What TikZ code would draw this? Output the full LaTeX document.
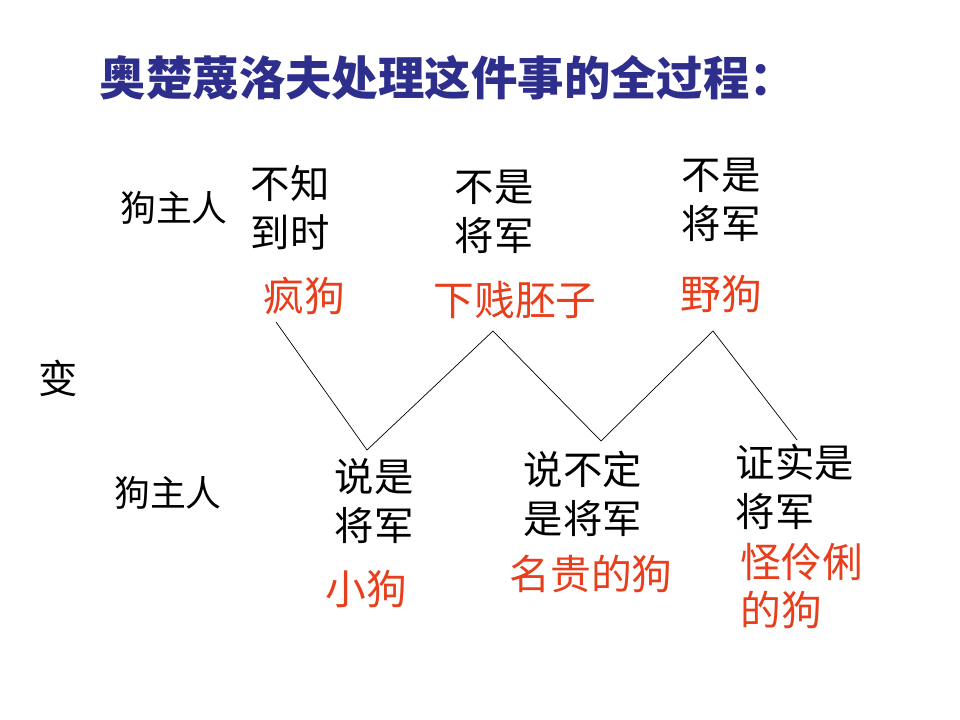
\documentclass[tikz,border=0pt]{standalone}
\usepackage{fontspec}
\newfontfamily\cjk{Noto Sans CJK SC}
\definecolor{titleblue}{RGB}{46,46,140}
\definecolor{redtxt}{RGB}{232,62,28}
\begin{document}
\begin{tikzpicture}[x=0.025cm,y=-0.025cm,
  blk/.style={inner sep=0pt,align=left,font=\cjk\fontsize{28}{35}\selectfont,text=black},
  owner/.style={inner sep=0pt,font=\cjk\fontsize{25.5}{30}\selectfont,text=black},
  rd/.style={inner sep=0pt,align=left,font=\cjk\fontsize{29}{34}\selectfont,text=redtxt},
  zig/.style={draw=black,line width=0.5pt}]
\path[use as bounding box,fill=white] (0,0) rectangle (960,720);
\node[inner sep=0pt,font=\cjk\bfseries\fontsize{33}{36}\selectfont,text=titleblue] (title) at (448,78) {奥楚蔑洛夫处理这件事的全过程：};
\node[owner] (own1) at (174,208) {狗主人};
\node[owner] (own2) at (168,493) {狗主人};
\node[blk] (bian) at (58,378) {变};
\node[blk] (t1) at (290,208) {不知\\到时};
\node[rd] (r1) at (304,296) {疯狗};
\node[blk] (t2) at (494,212) {不是\\将军};
\node[rd] (r2) at (515,300) {下贱胚子};
\node[blk] (t3) at (721,200) {不是\\将军};
\node[rd] (r3) at (721,294) {野狗};
\node[blk] (b1) at (374,501) {说是\\将军};
\node[rd] (s1) at (366,589) {小狗};
\node[blk] (b2) at (583,494) {说不定\\是将军};
\node[rd] (s2) at (591,574) {名贵的狗};
\node[blk] (b3) at (795,487) {证实是\\将军};
\node[rd] (s3) at (802,586) {怪伶俐\\的狗};
\coordinate (p0) at (276,322);
\coordinate (p1) at (367,450);
\coordinate (p2) at (493,331);
\coordinate (p3) at (601,441);
\coordinate (p4) at (713,331);
\coordinate (p5) at (797,440);
\draw[zig] (p0) -- (p1) -- (p2) -- (p3) -- (p4) -- (p5);
\end{tikzpicture}
\end{document}
